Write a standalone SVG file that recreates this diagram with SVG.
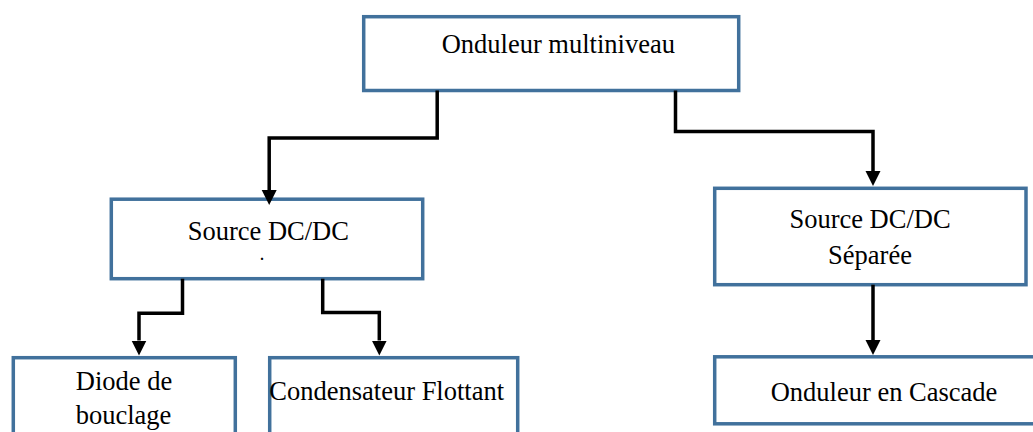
<svg xmlns="http://www.w3.org/2000/svg" width="1033" height="432" viewBox="0 0 1033 432">
  <style>
    .box { fill: #ffffff; stroke: #41719C; stroke-width: 3.5; }
    .lbl { font-family: "Liberation Serif", "Times New Roman", serif; font-size: 26.5px; fill: #000000; text-anchor: middle; }
    .mark { font-family: "Liberation Serif", "Times New Roman", serif; font-size: 14px; font-weight: bold; fill: #000000; text-anchor: middle; }
    .wire { fill: none; stroke: #000000; stroke-width: 3.5; stroke-linejoin: miter; }
  </style>
  <defs>
    <marker id="head" markerUnits="userSpaceOnUse" markerWidth="16" markerHeight="16" refX="0" refY="7.5" orient="auto">
      <path d="M0,0 L15,7.5 L0,15 z" fill="#000000"/>
    </marker>
  </defs>
  <rect width="1033" height="432" fill="#ffffff"/>

  <!-- nodes -->
  <g id="onduleur-multiniveau">
    <rect class="box" x="363.7" y="16.7" width="375" height="73.8"/>
    <text class="lbl" x="558.3" y="52.7">Onduleur multiniveau</text>
  </g>
  <g id="source-dcdc">
    <rect class="box" x="111.3" y="199.2" width="311.4" height="79.5"/>
    <text class="lbl" x="268.3" y="240">Source DC/DC</text>
    <text class="mark" x="262" y="260">.</text>
  </g>
  <g id="source-dcdc-separee">
    <rect class="box" x="714.7" y="188.3" width="311.3" height="96.4"/>
    <text class="lbl" x="870" y="228.3">Source DC/DC</text>
    <text class="lbl" x="870" y="263.5">Séparée</text>
  </g>
  <g id="diode-bouclage">
    <rect class="box" x="13.3" y="357.7" width="222" height="90"/>
    <text class="lbl" x="124" y="390">Diode de</text>
    <text class="lbl" x="123.5" y="424">bouclage</text>
  </g>
  <g id="condensateur-flottant">
    <rect class="box" x="269.7" y="357.7" width="248" height="90"/>
    <text class="lbl" x="386.7" y="400">Condensateur Flottant</text>
  </g>
  <g id="onduleur-cascade">
    <rect class="box" x="714.7" y="356.8" width="330" height="67"/>
    <text class="lbl" x="884" y="401">Onduleur en Cascade</text>
  </g>

  <!-- connectors -->
  <g id="connectors">
    <path class="wire" d="M437.2,90.5 V138 H269.2 V190" marker-end="url(#head)"/>
    <path class="wire" d="M675.5,90.5 V131.5 H873 V171" marker-end="url(#head)"/>
    <path class="wire" d="M873,284.7 V340" marker-end="url(#head)"/>
    <path class="wire" d="M182.5,278.7 V313.3 H139 V340.5" marker-end="url(#head)"/>
    <path class="wire" d="M322.7,278.7 V312.5 H379.3 V340.5" marker-end="url(#head)"/>
  </g>
</svg>
